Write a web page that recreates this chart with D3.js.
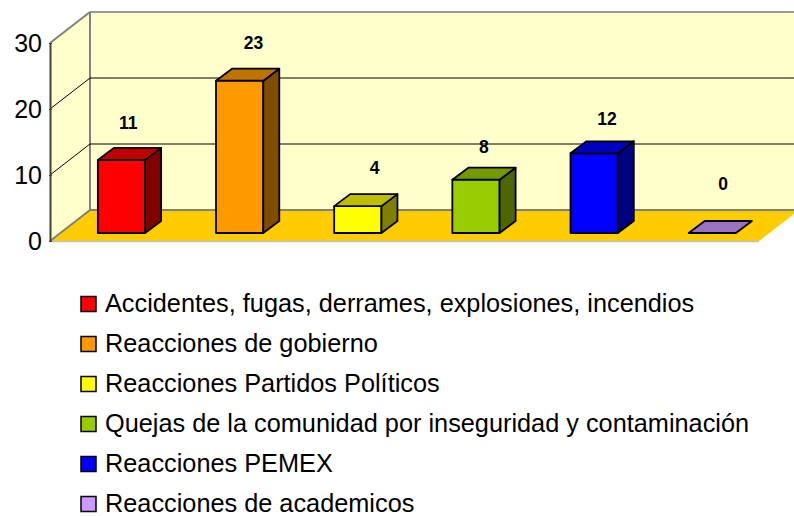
<!DOCTYPE html>
<html><head><meta charset="utf-8">
<script src="https://cdn.jsdelivr.net/npm/d3@7"></script>
<style>html,body{margin:0;padding:0;background:#fff}svg{display:block}text{font-family:"Liberation Sans",Arial,sans-serif;fill:#000}</style>
</head><body><svg id="c" width="794" height="516"></svg>
<script>
const categories = ["Accidentes, fugas, derrames, explosiones, incendios","Reacciones de gobierno","Reacciones Partidos Políticos","Quejas de la comunidad por inseguridad y contaminación","Reacciones PEMEX","Reacciones de academicos"];
const values = [11,23,4,8,12,0];
const colors = ["#FF0000","#FF9900","#FFFF00","#99CC00","#0000FF","#CC99FF"];
const yTicks = [0,10,20,30];

const svg = d3.select("#c");
const x = d3.scaleBand().domain(categories).range([50,759]);
const y = d3.scaleLinear().domain([0,30]).range([241,43]);
const wallD = {x:40,y:-31};
const barD = {x:16,y:-12};
const barOff = {x:12.4, y:-8};
const barW = x.bandwidth()*0.4;
const poly = (pts,fill,stroke,sw)=>svg.append("polygon").attr("points",pts.map(p=>p.join(",")).join(" ")).attr("fill",fill).attr("stroke",stroke||"none").attr("stroke-width",sw||0).attr("stroke-linejoin","round");
const line = (a,b,stroke,sw)=>svg.append("line").attr("x1",a[0]).attr("y1",a[1]).attr("x2",b[0]).attr("y2",b[1]).attr("stroke",stroke).attr("stroke-width",sw);

const [x0,x1]=x.range(), y0=y(0), yT=y(30);
// walls
poly([[x0+wallD.x,yT+wallD.y],[x1+wallD.x,yT+wallD.y],[x1+wallD.x,y0+wallD.y],[x0+wallD.x,y0+wallD.y]],"#FFFFCC");
poly([[x0,y0],[x0,yT],[x0+wallD.x,yT+wallD.y],[x0+wallD.x,y0+wallD.y]],"#FFFFCC");
poly([[x0,y0],[x1,y0],[x1+wallD.x,y0+wallD.y],[x0+wallD.x,y0+wallD.y]],"#FFCC00");
// wall edges
line([x0+wallD.x,yT+wallD.y],[x1+wallD.x,yT+wallD.y],"#999",2);
line([x0+wallD.x,yT+wallD.y],[x0+wallD.x,y0+wallD.y],"#808080",2);
line([x0+wallD.x,y0+wallD.y],[x1+wallD.x,y0+wallD.y],"#808080",2);
line([x0,yT],[x0+wallD.x,yT+wallD.y],"#808080",2);
line([x0,y0],[x0+wallD.x,y0+wallD.y],"#808080",2);
line([x0,y0+.5],[x1,y0+.5],"#C0C0C0",1.5);
// gridlines
yTicks.filter(t=>t>0&&t<30).forEach(t=>{
  line([x0,y(t)],[x0+wallD.x,y(t)+wallD.y],"#000",1);
  line([x0+wallD.x,y(t)+wallD.y],[x1+wallD.x,y(t)+wallD.y],"#000",1);
});
// axis
const ax = svg.append("g").attr("transform",`translate(${x0},0)`).call(d3.axisLeft(y).tickValues(yTicks).tickSize(0).tickPadding(8).tickFormat(d3.format("d")));
ax.select(".domain").attr("stroke","#404040").attr("stroke-width",2);
ax.selectAll("text").style("font-size","25px").attr("fill","#000").attr("dy","0.34em").style("font-family",'"Liberation Sans",Arial,sans-serif');
ax.selectAll(".tick").append("line").attr("x1",-1).attr("x2",2).attr("stroke","#404040");
// bars
const nudge=[[31,37.5],[38,38.5],[41,38.5],[32,33.5],[37,34.5],[35,49.5]];
categories.forEach((c,i)=>{
  const v=values[i], col=d3.color(colors[i]);
  const L=x(c)+(x.bandwidth()-barW)/2+barOff.x, R=L+barW, B=y(0)+barOff.y, T=y(v)+barOff.y-(v>0?.5:0);
  const st=[col.r*.75,col.g*.75,col.b*.75], sd=[col.r*.5,col.g*.5,col.b*.5];
  const top=`rgb(${st.map(Math.round)})`, side=`rgb(${sd.map(Math.round)})`;
  if(v>0) poly([[L,T],[R,T],[R,B],[L,B]],colors[i],"#000",1.8);
  if(v>0) poly([[R,T],[R+barD.x,T+barD.y],[R+barD.x,B+barD.y],[R,B]],side,"#000",1.8);
  poly([[L,T],[R,T],[R+barD.x,T+barD.y],[L+barD.x,T+barD.y]],top,"#000",1.8);
  svg.append("text").attr("x",L+nudge[i][0]-.5).attr("y",T-nudge[i][1]).attr("dy","0.36em").attr("text-anchor","middle").attr("font-size",17.5).attr("font-weight","bold").text(v);
});
// legend
const legY=d3.scalePoint().domain(categories).range([304,503.7]);
categories.forEach((c,i)=>{
  svg.append("rect").attr("x",81).attr("y",Math.round(legY(c))-7.5).attr("width",15).attr("height",15).attr("fill",colors[i]).attr("stroke","#000").attr("stroke-width",1.5);
  svg.append("text").attr("x",105).attr("y",legY(c)-0.5).attr("dy","0.345em").attr("font-size",25.3).text(c);
});
</script></body></html>
